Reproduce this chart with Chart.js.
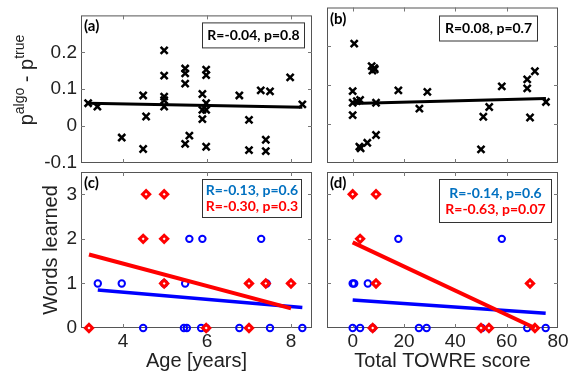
<!DOCTYPE html>
<html>
<head>
<meta charset="utf-8">
<script src="https://cdn.jsdelivr.net/npm/chart.js@4.4.0/dist/chart.umd.min.js"></script>
<style>
  html, body { margin: 0; padding: 0; background: #fff; }
  #wrap { position: relative; width: 571px; height: 379px; overflow: hidden; }
  canvas { position: absolute; left: 0; top: 0; }
</style>
</head>
<body>
<div id="wrap">
  <canvas id="pa" width="571" height="379"></canvas>
  <canvas id="pb" width="571" height="379"></canvas>
  <canvas id="pc" width="571" height="379"></canvas>
  <canvas id="pd" width="571" height="379"></canvas>
</div>
<script>
// (a) error vs age
const ageA = [3.17, 3.39, 3.97, 4.48, 4.55, 4.48, 4.98, 4.98, 4.98, 4.98, 4.98, 5.48, 5.48, 5.48, 5.58, 5.48, 5.89,
  5.89, 5.89, 5.98, 5.98, 5.98, 5.98, 5.98, 6.77, 7.0, 7.0, 7.28, 7.5, 7.4, 7.4, 7.98, 8.27];
const diffA = [0.062, 0.053, -0.031, 0.083, 0.026, -0.062, 0.205, 0.137, 0.080, 0.070, 0.053, 0.156, 0.143, 0.115,
  -0.026, -0.048, 0.087, 0.044, 0.019, 0.153, 0.138, 0.062, 0.044, -0.056, 0.083, 0.017, -0.065, 0.097, 0.094,
  -0.037, -0.068, 0.132, 0.059];
const fitAgeA = [3.17, 8.27];
const fitDiffA = [0.062, 0.051];

// (b) error vs TOWRE
const towreB = [0.6, 0, 0, 0, 2.9, 1.6, 7.4, 8.4, 7.7, 8.6, 9.1, 2.6, 3.1, 5.7, 9.1, 17.8, 26.0, 29.1, 50.9, 53.2,
  50.0, 58.1, 68.0, 68.0, 71.0, 69.1, 75.3];
const diffB = [0.207, 0.085, 0.055, 0.023, 0.062, 0.059, 0.149, 0.144, 0.138, 0.141, 0.055, -0.058, -0.062, -0.048,
  -0.028, 0.087, 0.040, 0.083, 0.019, 0.044, -0.065, 0.097, 0.115, 0.092, 0.136, 0.017, 0.057];
const fitTowreB = [0, 75.3];
const fitDiffB = [0.053, 0.066];

// (c) words learned vs age
const ageBlue = [3.40, 3.97, 4.48, 4.98, 5.48, 5.45, 5.52, 5.58, 5.89, 5.86, 5.98, 6.77, 7.29, 7.42, 7.5, 8.27];
const wordsBlueC = [1, 1, 0, 1, 1, 0, 0, 2, 2, 0, 0, 0, 2, 1, 0, 0];
const ageRed = [3.19, 4.55, 4.98, 4.48, 4.98, 4.98, 5.98, 7.0, 7.0, 7.4, 8.0];
const wordsRedC = [0, 3, 3, 2, 2, 1, 0, 1, 0, 1, 1];
const fitAgeBlue = [3.40, 8.27];
const fitWordsBlueC = [0.85, 0.46];
const fitAgeRed = [3.19, 8.0];
const fitWordsRedC = [1.65, 0.44];

// (d) words learned vs TOWRE
const towreBlue = [0, 0.6, 5.9, 17.8, 58.1, 0, 2.9, 7.8, 25.8, 28.8, 50.3, 68.0, 75.2];
const wordsBlueD = [1, 1, 1, 2, 2, 0, 0, 0, 0, 0, 0, 0, 0];
const towreRed = [0, 9.1, 2.9, 9.1, 69.1, 7.8, 50.0, 53.1, 71.0];
const wordsRedD = [3, 3, 2, 1, 1, 0, 0, 0, 0];
const fitTowreBlue = [0, 75.2];
const fitWordsBlueD = [0.63, 0.33];
const fitTowreRed = [0, 71.0];
const fitWordsRedD = [1.92, 0.0];

// ticks
const ageTicks = [4, 6, 8];
const towreTicks = [0, 20, 40, 60, 80];
const diffTicks = [-0.1, 0, 0.1, 0.2];
const wordTicks = [0, 1, 2, 3];

const BLUE = "rgb(0,0,255)";
const RED = "rgb(255,0,0)";
const TXT_BLUE = "rgb(0,112,192)";
const FONT = "'Liberation Sans', Arial, sans-serif";

function pts(xs, ys) {
  return xs.map((x, i) => ({ x: x, y: ys[i] }));
}

// frame, inward ticks, labels and stat boxes
const panelDeco = {
  id: "panelDeco",
  beforeDatasetsDraw(chart, args, opts) {
    const { ctx, chartArea: a, scales } = chart;
    ctx.save();
    ctx.strokeStyle = "#555";
    ctx.lineWidth = 1;
    ctx.strokeRect(a.left + 0.5, a.top + 0.5, a.right - a.left - 1, a.bottom - a.top - 1);
    ctx.strokeStyle = "#777";
    ctx.beginPath();
    opts.xTicks.forEach((v) => {
      const px = Math.round(scales.x.getPixelForValue(v)) + 0.5;
      if (px < a.left + 2 || px > a.right - 2) return;
      ctx.moveTo(px, a.bottom); ctx.lineTo(px, a.bottom - 4);
      ctx.moveTo(px, a.top); ctx.lineTo(px, a.top + 4);
    });
    opts.yTicks.forEach((v) => {
      const py = Math.round(scales.y.getPixelForValue(v)) + 0.5;
      if (py < a.top + 2 || py > a.bottom - 2) return;
      ctx.moveTo(a.left, py); ctx.lineTo(a.left + 4, py);
      ctx.moveTo(a.right, py); ctx.lineTo(a.right - 4, py);
    });
    ctx.stroke();
    ctx.restore();
  },
  afterDatasetsDraw(chart, args, opts) {
    const { ctx, chartArea: a } = chart;
    ctx.save();
    // panel letter
    ctx.fillStyle = "#000";
    ctx.font = "bold 15px Lato, sans-serif";
    ctx.textBaseline = "alphabetic";
    ctx.textAlign = "left";
    ctx.fillText(opts.label, a.left + 3, a.top + 16);

    // stat box
    const b = opts.box;
    const bx = a.right - b.right - b.w;
    const by = a.top + b.top;
    ctx.fillStyle = "#fff";
    ctx.fillRect(bx, by, b.w, b.h);
    ctx.strokeStyle = "#333";
    ctx.lineWidth = 1;
    ctx.strokeRect(bx + 0.5, by + 0.5, b.w - 1, b.h - 1);
    ctx.font = "bold 14px Lato, sans-serif";
    ctx.textAlign = "center";
    ctx.textBaseline = "middle";
    const n = opts.stats.length;
    opts.stats.forEach((s, i) => {
      ctx.fillStyle = s.color;
      ctx.fillText(s.text, bx + b.w / 2, by + b.h / 2 + (i - (n - 1) / 2) * 16);
    });

    // p^algo - p^true
    if (opts.pLabel) {
      ctx.translate(33, 80);
      ctx.rotate(-Math.PI / 2);
      ctx.fillStyle = "#222";
      ctx.textAlign = "left";
      ctx.textBaseline = "alphabetic";
      const parts = [["p", 20, 0], ["algo", 14, -9], [" - p", 20, 0], ["true", 14, -9]];
      let total = 0;
      parts.forEach((p) => { ctx.font = p[1] + "px " + FONT; total += ctx.measureText(p[0]).width; });
      let x = -total / 2;
      parts.forEach((p) => {
        ctx.font = p[1] + "px " + FONT;
        ctx.fillText(p[0], x, p[2]);
        x += ctx.measureText(p[0]).width;
      });
    }
    ctx.restore();
  },
};

function makePanel(id, cfg) {
  const tickFont = { family: FONT, size: 19 };
  return new Chart(document.getElementById(id), {
    type: "scatter",
    data: { datasets: cfg.datasets },
    options: {
      responsive: false,
      animation: false,
      devicePixelRatio: 1,
      layout: { padding: cfg.padding },
      plugins: {
        legend: { display: false },
        tooltip: { enabled: false },
        panelDeco: cfg.deco,
      },
      scales: {
        x: {
          type: "linear",
          min: cfg.xMin,
          max: cfg.xMax,
          display: cfg.showX,
          afterBuildTicks: (s) => { s.ticks = cfg.xTicks.map((v) => ({ value: v })); },
          afterFit: (s) => { s.height = cfg.showX ? 51 : 0; },
          grid: { display: false, drawTicks: false },
          border: { display: false },
          ticks: { font: tickFont, color: "#222", padding: 2, maxRotation: 0, autoSkip: false },
          title: {
            display: !!cfg.xTitle,
            text: cfg.xTitle,
            font: { family: FONT, size: 20 },
            color: "#222",
            padding: { top: 0, bottom: 6 },
          },
        },
        y: {
          type: "linear",
          min: cfg.yMin,
          max: cfg.yMax,
          display: cfg.showY,
          afterBuildTicks: (s) => { s.ticks = cfg.yTicks.map((v) => ({ value: v })); },
          afterFit: (s) => { s.width = cfg.showY ? 81 : 0; },
          grid: { display: false, drawTicks: false },
          border: { display: false },
          ticks: { font: tickFont, color: "#222", padding: 4, autoSkip: false },
          title: {
            display: !!cfg.yTitle,
            text: cfg.yTitle,
            font: { family: FONT, size: 20 },
            color: "#222",
            padding: { top: 39, bottom: 0 },
          },
        },
      },
    },
    plugins: [panelDeco],
  });
}

function crossSet(xs, ys) {
  return {
    data: pts(xs, ys), pointStyle: "crossRot", pointRadius: 5, borderColor: "#000",
    pointBorderWidth: 2.5, clip: false, order: 2,
  };
}
function lineSet(xs, ys, color, w, order) {
  return {
    data: pts(xs, ys), showLine: true, borderColor: color, borderWidth: w, pointRadius: 0,
    clip: false, order: order,
  };
}
function circleSet(xs, ys) {
  return {
    data: pts(xs, ys), pointStyle: "circle", pointRadius: 3.2, borderColor: BLUE,
    backgroundColor: "rgba(0,0,0,0)", pointBorderWidth: 2, clip: false, order: 4,
  };
}
function diamondSet(xs, ys) {
  return {
    data: pts(xs, ys), pointStyle: "rectRot", pointRadius: 3.6, borderColor: RED,
    backgroundColor: "#fff", pointBorderWidth: 3, clip: false, order: 3,
  };
}

window.addEventListener("load", function () {
  makePanel("pa", {
    padding: { left: 0, top: 7, right: 259, bottom: 216 },
    xMin: 3, xMax: 8.5, yMin: -0.1, yMax: 0.3,
    showX: false, showY: true, xTicks: ageTicks, yTicks: diffTicks,
    datasets: [lineSet(fitAgeA, fitDiffA, "#000", 3, 1), crossSet(ageA, diffA)],
    deco: {
      xTicks: ageTicks, yTicks: diffTicks, label: "(a)", pLabel: true,
      box: { w: 103, h: 26, right: 7, top: 7 },
      stats: [{ text: "R=-0.04, p=0.8", color: "#000" }],
    },
  });

  makePanel("pb", {
    padding: { left: 327, top: 7, right: 13, bottom: 216 },
    xMin: -10, xMax: 80, yMin: -0.1, yMax: 0.3,
    showX: false, showY: false, xTicks: towreTicks, yTicks: diffTicks,
    datasets: [lineSet(fitTowreB, fitDiffB, "#000", 3, 1), crossSet(towreB, diffB)],
    deco: {
      xTicks: towreTicks, yTicks: diffTicks, label: "(b)",
      box: { w: 99, h: 26, right: 20, top: 8 },
      stats: [{ text: "R=0.08, p=0.7", color: "#000" }],
    },
  });

  makePanel("pc", {
    padding: { left: 0, top: 172, right: 259, bottom: 0 },
    xMin: 3, xMax: 8.5, yMin: 0, yMax: 3.5,
    showX: true, showY: true, xTicks: ageTicks, yTicks: wordTicks,
    xTitle: "Age [years]", yTitle: "Words learned",
    datasets: [
      lineSet(fitAgeRed, fitWordsRedC, RED, 4, 0),
      lineSet(fitAgeBlue, fitWordsBlueC, BLUE, 3.5, 1),
      diamondSet(ageRed, wordsRedC),
      circleSet(ageBlue, wordsBlueC),
    ],
    deco: {
      xTicks: ageTicks, yTicks: wordTicks, label: "(c)",
      box: { w: 100, h: 39, right: 10, top: 7 },
      stats: [{ text: "R=-0.13, p=0.6", color: TXT_BLUE }, { text: "R=-0.30, p=0.3", color: RED }],
    },
  });

  makePanel("pd", {
    padding: { left: 327, top: 172, right: 13, bottom: 0 },
    xMin: -10, xMax: 80, yMin: 0, yMax: 3.5,
    showX: true, showY: false, xTicks: towreTicks, yTicks: wordTicks,
    xTitle: "Total TOWRE score",
    datasets: [
      lineSet(fitTowreRed, fitWordsRedD, RED, 4, 0),
      lineSet(fitTowreBlue, fitWordsBlueD, BLUE, 3.5, 1),
      diamondSet(towreRed, wordsRedD),
      circleSet(towreBlue, wordsBlueD),
    ],
    deco: {
      xTicks: towreTicks, yTicks: wordTicks, label: "(d)",
      box: { w: 113, h: 44, right: 6, top: 7 },
      stats: [{ text: "R=-0.14, p=0.6", color: TXT_BLUE }, { text: "R=-0.63, p=0.07", color: RED }],
    },
  });
});
</script>
</body>
</html>
